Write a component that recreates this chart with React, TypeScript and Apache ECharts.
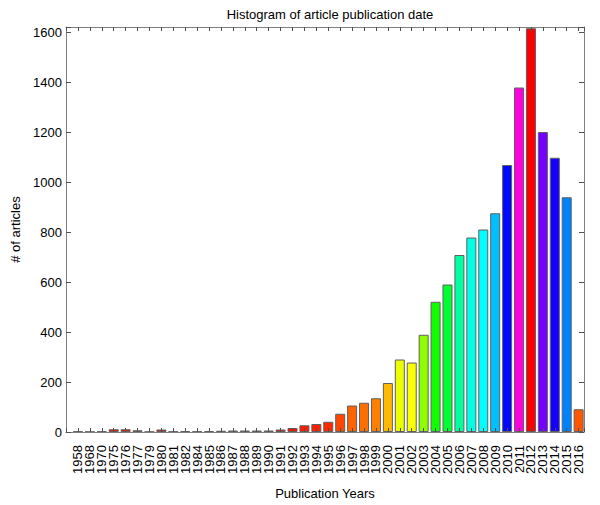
import React, { useEffect, useRef } from "react";
import * as echarts from "echarts";

const years: string[] = [
  "1958", "1968", "1970", "1975", "1976", "1977", "1979", "1980", "1981", "1982",
  "1984", "1985", "1986", "1987", "1988", "1989", "1990", "1991", "1992", "1993",
  "1994", "1995", "1996", "1997", "1998", "1999", "2000", "2001", "2002", "2003",
  "2004", "2005", "2006", "2007", "2008", "2009", "2010", "2011", "2012", "2013",
  "2014", "2015", "2016",
];

const counts: number[] = [
  2, 1, 2, 11, 11, 7, 1, 10, 2, 4,
  2, 4, 5, 6, 6, 6, 6, 10, 16, 27,
  32, 41, 73, 106, 117, 135, 196, 290, 278, 389,
  521, 590, 708, 778, 810, 875, 1068, 1378, 1615, 1200,
  1097, 939, 91,
];

const yMax = 1620;
const yStep = 200;

const FONT = "'Liberation Sans', Arial, Helvetica, sans-serif";

function hsvColor(h: number): string {
  const hh = Math.max(0, Math.min(1, h)) * 6;
  const i = Math.floor(hh);
  const f = hh - i;
  let r = 0, g = 0, b = 0;
  switch (i % 6) {
    case 0: r = 1; g = f; b = 0; break;
    case 1: r = 1 - f; g = 1; b = 0; break;
    case 2: r = 0; g = 1; b = f; break;
    case 3: r = 0; g = 1 - f; b = 1; break;
    case 4: r = f; g = 0; b = 1; break;
    default: r = 1; g = 0; b = 1 - f; break;
  }
  const to = (x: number) => Math.round(x * 255).toString(16).padStart(2, "0");
  return "#" + to(r) + to(g) + to(b);
}

export default function App() {
  const ref = useRef<HTMLDivElement>(null);

  useEffect(() => {
    if (!ref.current) return;
    const chart = echarts.init(ref.current, null, { renderer: "svg" });
    const maxV = Math.max(...counts);
    const xMax = years.length + 0.45;
    const axisLineStyle = { color: "#808080", width: 1 };
    const tickStyle = { color: "#505050", width: 1 };

    chart.setOption({
      animation: false,
      backgroundColor: "#ffffff",
      title: {
        text: "Histogram of article publication date",
        left: 325,
        top: 3,
        textAlign: "center",
        textStyle: { fontFamily: FONT, fontSize: 13, fontWeight: "normal", color: "#000" },
      },
      grid: { left: 66, right: 16, top: 27, bottom: 73 },
      xAxis: [
        {
          type: "value",
          position: "bottom",
          min: 0,
          max: xMax,
          interval: 1,
          z: 5,
          axisLine: { show: true, onZero: false, lineStyle: axisLineStyle },
          axisTick: { show: true, inside: true, length: 4, lineStyle: tickStyle },
          splitLine: { show: false },
          axisLabel: {
            rotate: 90,
            margin: 13,
            fontFamily: FONT,
            fontSize: 13,
            color: "#000",
            formatter: (v: number) =>
              Number.isInteger(v) && v >= 1 && v <= years.length ? years[v - 1] : "",
          },
          name: "Publication Years",
          nameLocation: "middle",
          nameGap: 55,
          nameTextStyle: { fontFamily: FONT, fontSize: 13, color: "#000" },
        },
        {
          type: "value",
          position: "top",
          min: 0,
          max: xMax,
          interval: 1,
          z: 5,
          axisLine: { show: true, onZero: false, lineStyle: axisLineStyle },
          axisTick: { show: true, inside: true, length: 4, lineStyle: tickStyle },
          splitLine: { show: false },
          axisLabel: { show: false },
        },
      ],
      yAxis: [
        {
          type: "value",
          position: "left",
          min: 0,
          max: yMax,
          interval: yStep,
          z: 5,
          axisLine: { show: true, onZero: false, lineStyle: axisLineStyle },
          axisTick: { show: true, inside: true, length: 5, lineStyle: tickStyle },
          splitLine: { show: false },
          axisLabel: {
            margin: 4,
            fontFamily: FONT,
            fontSize: 13,
            color: "#000",
            formatter: (v: number) => (v % yStep === 0 ? String(v) : ""),
          },
          name: "# of articles",
          nameLocation: "middle",
          nameRotate: 90,
          nameGap: 44,
          nameTextStyle: { fontFamily: FONT, fontSize: 13, color: "#000" },
        },
        {
          type: "value",
          position: "right",
          min: 0,
          max: yMax,
          interval: yStep,
          z: 5,
          axisLine: { show: true, onZero: false, lineStyle: axisLineStyle },
          axisTick: { show: true, inside: true, length: 5, lineStyle: tickStyle },
          splitLine: { show: false },
          axisLabel: { show: false },
        },
      ],
      series: [
        {
          type: "bar",
          xAxisIndex: 0,
          yAxisIndex: 0,
          barWidth: 10,
          itemStyle: { borderColor: "#606060", borderWidth: 1 },
          data: counts.map((v, i) => ({
            value: [i + 1, v],
            itemStyle: { color: hsvColor(v / maxV) },
          })),
        },
      ],
    });

    return () => {
      chart.dispose();
    };
  }, []);

  return (
    <div
      ref={ref}
      style={{ position: "fixed", left: 0, top: 0, width: 600, height: 505 }}
    />
  );
}
